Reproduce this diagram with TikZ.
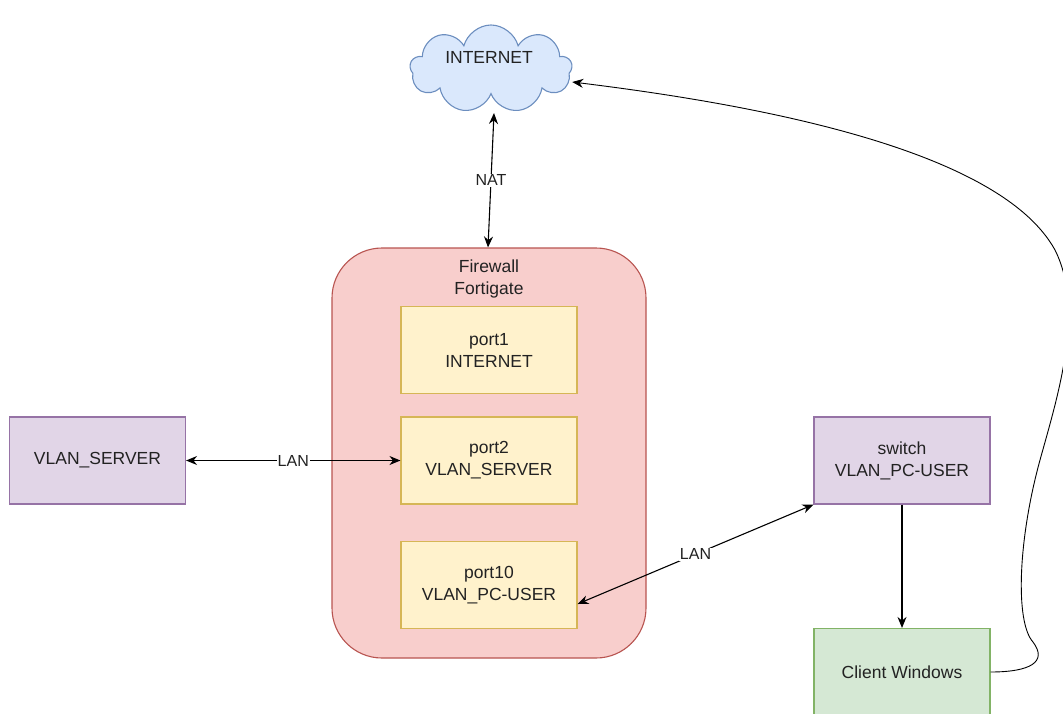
\documentclass[tikz,border=0pt]{standalone}
\usepackage{fontspec}
\setmainfont{Liberation Sans}
\usetikzlibrary{shapes.symbols,arrows.meta}
\definecolor{cloudfill}{HTML}{DAE8FC}
\definecolor{cloudline}{HTML}{6C8EBF}
\definecolor{fwfill}{HTML}{F8CECC}
\definecolor{fwline}{HTML}{B85450}
\definecolor{portfill}{HTML}{FFF2CC}
\definecolor{portline}{HTML}{D6B656}
\definecolor{vlanfill}{HTML}{E1D5E7}
\definecolor{vlanline}{HTML}{9673A6}
\definecolor{pcfill}{HTML}{D5E8D4}
\definecolor{pcline}{HTML}{82B366}
\definecolor{txt}{HTML}{222222}
\begin{document}
\begin{tikzpicture}[x=1pt,y=-1pt,font=\fontsize{17.5}{22}\selectfont,text=txt,
  box/.style={draw, line width=1.1pt, minimum width=176pt, minimum height=87pt, align=center, inner sep=0pt},
  link/.style={line width=1.1pt, {Stealth[length=11pt,width=9pt]}-{Stealth[length=11pt,width=9pt]}},
  lbl/.style={fill=white, inner sep=1pt, font=\fontsize{16}{19}\selectfont}]
\useasboundingbox (0,0) rectangle (1063,713);

%nuvola
\node[cloud, cloud puffs=9, aspect=1.8, draw=cloudline, fill=cloudfill, line width=1.1pt,
  minimum width=162pt, minimum height=88pt] (inet) at (491,69) {};
\node at (489,57) {INTERNET};
\coordinate (natup) at (494,113);

%firewall
\node[draw=fwline, fill=fwfill, line width=1.1pt, rounded corners=50pt,
  minimum width=314pt, minimum height=410pt] (fw) at (489,453) {};
\node[align=center] (fwname) at (489,279) {Firewall\\Fortigate};

%porte
\node[box, draw=portline, fill=portfill] (port1) at (489,350) {port1\\INTERNET};
\node[box, draw=portline, fill=portfill] (port2) at (489,460.5) {port2\\VLAN\_SERVER};
\node[box, draw=portline, fill=portfill] (port10) at (489,585) {port10\\VLAN\_PC-USER};

%vlan e client
\node[box, draw=vlanline, fill=vlanfill] (srv) at (97.5,460.5) {VLAN\_SERVER};
\node[box, draw=vlanline, fill=vlanfill] (sw) at (902,460.5) {switch\\VLAN\_PC-USER};
\node[box, draw=pcline, fill=pcfill] (pc) at (902,672) {Client Windows};

%collegamenti
\draw[link] (natup) -- node[lbl] {NAT} ([xshift=-1pt]fw.north);
\draw[link] (srv) -- node[lbl] {LAN} (port2);
\draw[link] ([yshift=-19pt]port10.east) -- node[lbl] {LAN} (sw.south west);
\draw[line width=1.1pt, -{Stealth[length=11pt,width=9pt]}] (sw) -- (pc);
\draw[line width=0.9pt, -{Stealth[length=11pt,width=9pt]}] (pc.east)
  .. controls (1030,672) and (1048,662) .. (1033,642)
  .. controls (1015,622) and (1018,540) .. (1040,460)
  .. controls (1058,395) and (1085,310) .. (1055,250)
  .. controls (1000,150) and (760,105) .. ([yshift=-13pt]inet.east);
\end{tikzpicture}
\end{document}
